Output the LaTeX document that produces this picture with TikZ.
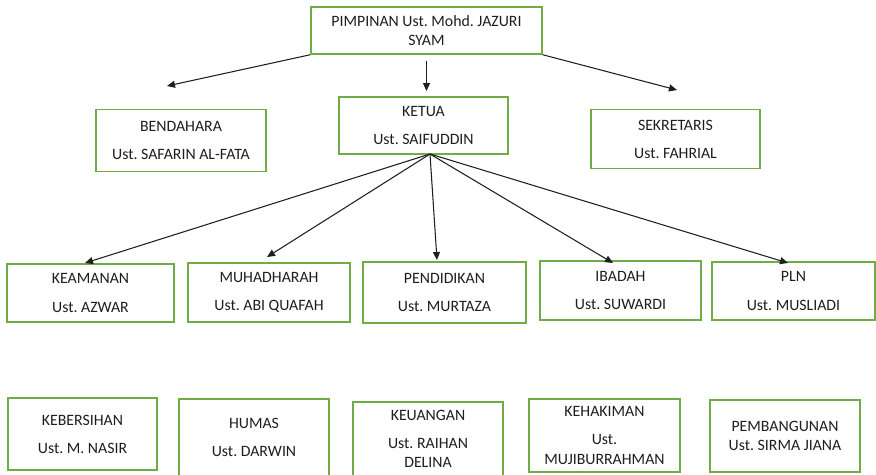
\documentclass[tikz,border=0pt]{standalone}
\usepackage{fontspec}
\setmainfont{Carlito}
\usetikzlibrary{arrows.meta}
\definecolor{boxgreen}{RGB}{112,173,71}
\definecolor{inkgray}{RGB}{30,30,30}
\frenchspacing
\begin{document}
\begin{tikzpicture}[x=0.02cm, y=-0.02cm, font=\fontsize{9}{11}\selectfont,
  b/.style={draw=boxgreen, line width=0.85pt, inner sep=0pt, align=center, text=inkgray},
  arr/.style={-{Triangle[length=1.6mm, width=1.4mm]}, line width=0.6pt, inkgray}]
  \useasboundingbox (0,0) rectangle (876,474);
  % top levels
  \node[b, minimum width=4.62cm, minimum height=0.94cm] (pimp) at (426.5,30.5) {PIMPINAN Ust. Mohd. JAZURI\\SYAM};
  \node[b, minimum width=3.38cm, minimum height=1.14cm] (ketua) at (423.5,125.5) {KETUA\\[5pt]Ust. SAIFUDDIN};
  \node[b, minimum width=3.40cm, minimum height=1.24cm] (bend) at (181,140.5) {BENDAHARA\\[5pt]Ust. SAFARIN AL-FATA};
  \node[b, minimum width=3.38cm, minimum height=1.18cm] (sekr) at (675.5,139) {SEKRETARIS\\[5pt]Ust. FAHRIAL};
  % second row
  \node[b, minimum width=3.34cm, minimum height=1.16cm] (keam) at (90.5,293) {KEAMANAN\\[5pt]Ust. AZWAR};
  \node[b, minimum width=3.24cm, minimum height=1.18cm] (muha) at (269,292.5) {MUHADHARAH\\[5pt]Ust. ABI QUAFAH};
  \node[b, minimum width=3.26cm, minimum height=1.22cm] (pend) at (444.5,292.5) {PENDIDIKAN\\[5pt]Ust. MURTAZA};
  \node[b, minimum width=3.22cm, minimum height=1.18cm] (ibad) at (620.5,290.5) {IBADAH\\[5pt]Ust. SUWARDI};
  \node[b, minimum width=3.26cm, minimum height=1.16cm] (pln) at (793.5,291) {PLN\\[5pt]Ust. MUSLIADI};
  % third row
  \node[b, minimum width=2.98cm, minimum height=1.44cm] (kebe) at (82.5,434) {KEBERSIHAN\\[5pt]Ust. M. NASIR};
  \node[b, minimum width=3.00cm, minimum height=1.54cm] (huma) at (254,437.5) {HUMAS\\[5pt]Ust. DARWIN};
  \node[b, minimum width=3.00cm, minimum height=1.48cm] (keua) at (428,439) {KEUANGAN\\[5pt]Ust. RAIHAN\\DELINA};
  \node[b, minimum width=3.02cm, minimum height=1.46cm] (keha) at (604.5,435.5) {KEHAKIMAN\\[5pt]Ust.\\MUJIBURRAHMAN};
  \node[b, minimum width=3.00cm, minimum height=1.44cm] (pemb) at (785,436) {PEMBANGUNAN\\Ust. SIRMA JIANA};
  % arrow ends
  \coordinate (tbend) at (167,86);
  \coordinate (tsekr) at (677,90);
  \coordinate (tketua) at (426.5,91);
  \coordinate (fan) at (430,154);
  \coordinate (tkeam) at (85,263);
  \coordinate (tmuha) at (267,257);
  \coordinate (tpend) at (437,260);
  \coordinate (tibad) at (613,263);
  \coordinate (tpln) at (788,263);
  \draw[arr] (pimp.south west) -- (tbend);
  \draw[arr] (pimp.south east) -- (tsekr);
  \draw[arr, shorten <=0.12cm] (pimp.south) -- (tketua);
  \draw[arr] (fan) -- (tkeam);
  \draw[arr] (fan) -- (tmuha);
  \draw[arr] (fan) -- (tpend);
  \draw[arr] (fan) -- (tibad);
  \draw[arr] (fan) -- (tpln);
\end{tikzpicture}
\end{document}
